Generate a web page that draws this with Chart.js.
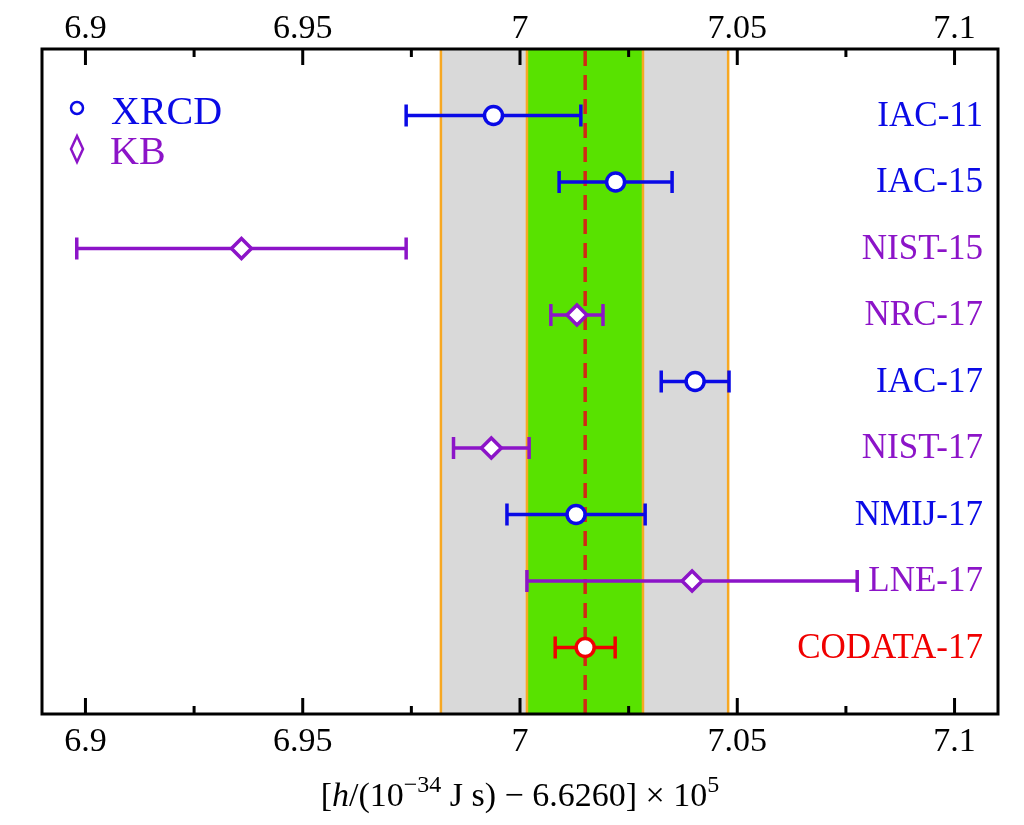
<!DOCTYPE html>
<html>
<head>
<meta charset="utf-8">
<script src="https://cdn.jsdelivr.net/npm/chart.js@4"></script>
<style>
  html, body { margin: 0; padding: 0; background: #fff; }
  #wrap { width: 1024px; height: 825px; }
</style>
</head>
<body>
<div id="wrap"><canvas id="hChart" width="1024" height="825"></canvas></div>
<script>
// data, top row first
const labs = ["IAC-11", "IAC-15", "NIST-15", "NRC-17", "IAC-17", "NIST-17", "NMIJ-17", "LNE-17", "CODATA-17"];
const hVals = [6.9939, 7.0220, 6.9359, 7.0131, 7.0403, 6.9934, 7.0129, 7.0396, 7.0150];
const hErrs = [0.0201, 0.0130, 0.0379, 0.0060, 0.0078, 0.0087, 0.0159, 0.0380, 0.0069];
const methods = ["XRCD", "XRCD", "KB", "KB", "XRCD", "KB", "XRCD", "KB", "CODATA"];

// shaded bands and reference line
const outerBand = [6.9818, 7.0479];
const innerBand = [7.0016, 7.0283];
const refLine = 7.0150;

// axis ticks
const majorTicks = [6.9, 6.95, 7, 7.05, 7.1];
const minorTicks = [6.925, 6.975, 7.025, 7.075];

const colors = { XRCD: "#0a0ae6", KB: "#8c14c8", CODATA: "#f00000" };
const serif = "Liberation Serif";

const points = hVals.map((v, i) => ({ x: v, y: labs.length - i }));

// bands + dashed line + error bars under the markers
const underlay = {
  id: "underlay",
  beforeDatasetsDraw(chart) {
    const { ctx, chartArea: a, scales } = chart;
    const xs = scales.x, ys = scales.y;
    ctx.save();
    ctx.beginPath();
    ctx.rect(a.left, a.top, a.right - a.left, a.bottom - a.top);
    ctx.clip();

    const band = (r, fill) => {
      const x0 = xs.getPixelForValue(r[0]);
      const x1 = xs.getPixelForValue(r[1]);
      ctx.fillStyle = fill;
      ctx.fillRect(x0, a.top, x1 - x0, a.bottom - a.top);
      ctx.strokeStyle = "#f7a823";
      ctx.lineWidth = 2.5;
      [x0, x1].forEach((x) => {
        ctx.beginPath();
        ctx.moveTo(x, a.top);
        ctx.lineTo(x, a.bottom);
        ctx.stroke();
      });
    };
    band(outerBand, "#d9d9d9");
    band(innerBand, "#58e200");

    // dashed reference
    const xr = xs.getPixelForValue(refLine);
    ctx.strokeStyle = "#d22814";
    ctx.lineWidth = 3.5;
    ctx.setLineDash([15, 9]);
    ctx.beginPath();
    ctx.moveTo(xr, a.bottom);
    ctx.lineTo(xr, a.top);
    ctx.stroke();
    ctx.setLineDash([]);

    // error bars
    ctx.lineWidth = 3.5;
    hVals.forEach((v, i) => {
      const y = ys.getPixelForValue(labs.length - i);
      const xl = xs.getPixelForValue(v - hErrs[i]);
      const xh = xs.getPixelForValue(v + hErrs[i]);
      ctx.strokeStyle = colors[methods[i]];
      ctx.beginPath();
      ctx.moveTo(xl, y);
      ctx.lineTo(xh, y);
      ctx.moveTo(xl, y - 11);
      ctx.lineTo(xl, y + 11);
      ctx.moveTo(xh, y - 11);
      ctx.lineTo(xh, y + 11);
      ctx.stroke();
    });
    ctx.restore();
  },
};

// frame, inward ticks, row labels, legend and axis title
const overlay = {
  id: "overlay",
  afterDraw(chart) {
    const { ctx, chartArea: a, scales } = chart;
    const xs = scales.x, ys = scales.y;
    ctx.save();
    ctx.strokeStyle = "#000";
    ctx.lineWidth = 3;
    ctx.strokeRect(a.left, a.top, a.right - a.left, a.bottom - a.top);

    const tick = (v, len) => {
      const x = xs.getPixelForValue(v);
      ctx.beginPath();
      ctx.moveTo(x, a.top);
      ctx.lineTo(x, a.top + len);
      ctx.moveTo(x, a.bottom);
      ctx.lineTo(x, a.bottom - len);
      ctx.stroke();
    };
    majorTicks.forEach((v) => tick(v, 16));
    minorTicks.forEach((v) => tick(v, 8));

    // row labels on the right
    ctx.font = "35px '" + serif + "'";
    ctx.textAlign = "right";
    ctx.textBaseline = "middle";
    labs.forEach((l, i) => {
      ctx.fillStyle = colors[methods[i]];
      ctx.fillText(l, a.right - 15, ys.getPixelForValue(labs.length - i) + 1);
    });

    // legend
    ctx.textAlign = "left";
    ctx.textBaseline = "alphabetic";
    ctx.font = "40px '" + serif + "'";
    ctx.lineWidth = 2.5;
    ctx.strokeStyle = colors.XRCD;
    ctx.beginPath();
    ctx.arc(a.left + 35, 108, 6, 0, Math.PI * 2);
    ctx.stroke();
    ctx.fillStyle = colors.XRCD;
    ctx.fillText("XRCD", a.left + 69, 124);

    ctx.strokeStyle = colors.KB;
    ctx.beginPath();
    ctx.moveTo(a.left + 35, 136);
    ctx.lineTo(a.left + 41, 149);
    ctx.lineTo(a.left + 35, 162);
    ctx.lineTo(a.left + 29, 149);
    ctx.closePath();
    ctx.stroke();
    ctx.fillStyle = colors.KB;
    ctx.fillText("KB", a.left + 68, 164);

    // x axis title with italic h and superscripts
    const f = (s, it) => (it ? "italic " : "") + s + "px '" + serif + "'";
    const parts = [
      { t: "[", f: f(34) },
      { t: "h", f: f(34, true) },
      { t: "/(10", f: f(34) },
      { t: "\u221234", f: f(24), up: 14 },
      { t: " J s) \u2212 6.6260] \u00d7 10", f: f(34) },
      { t: "5", f: f(24), up: 14 },
    ];
    let w = 0;
    parts.forEach((p) => { ctx.font = p.f; p.w = ctx.measureText(p.t).width; w += p.w; });
    let x = (a.left + a.right) / 2 - w / 2;
    ctx.fillStyle = "#000";
    parts.forEach((p) => {
      ctx.font = p.f;
      ctx.fillText(p.t, x, 806 - (p.up || 0));
      x += p.w;
    });
    ctx.restore();
  },
};

const tickOpts = {
  font: { family: serif, size: 34 },
  color: "#000",
  includeBounds: false,
  callback: (v) => String(Math.round(v * 1000) / 1000),
};

new Chart(document.getElementById("hChart"), {
  type: "scatter",
  data: {
    datasets: [
      {
        data: points,
        pointStyle: methods.map((m) => (m === "KB" ? "rectRot" : "circle")),
        pointRadius: methods.map((m) => (m === "KB" ? 10 : 9)),
        pointBorderWidth: 3.5,
        pointBorderColor: methods.map((m) => colors[m]),
        pointBackgroundColor: "#fff",
        showLine: false,
      },
    ],
  },
  options: {
    responsive: false,
    animation: false,
    layout: { padding: { left: 42, right: 26, top: 0, bottom: 0 } },
    scales: {
      x: {
        type: "linear",
        position: "bottom",
        min: 6.89,
        max: 7.11,
        afterBuildTicks: (s) => { s.ticks = majorTicks.map((v) => ({ value: v })); },
        afterFit: (s) => { s.height = 111; },
        grid: { display: false },
        border: { display: false },
        ticks: Object.assign({ padding: 0, maxRotation: 0 }, tickOpts),
      },
      x2: {
        type: "linear",
        position: "top",
        min: 6.89,
        max: 7.11,
        afterBuildTicks: (s) => { s.ticks = majorTicks.map((v) => ({ value: v })); },
        afterFit: (s) => { s.height = 49; },
        grid: { display: false },
        border: { display: false },
        ticks: Object.assign({ padding: -8, maxRotation: 0 }, tickOpts),
      },
      y: {
        display: false,
        min: 0,
        max: 10,
      },
    },
    plugins: {
      legend: { display: false },
      tooltip: { enabled: false },
    },
  },
  plugins: [underlay, overlay],
});
</script>
</body>
</html>
